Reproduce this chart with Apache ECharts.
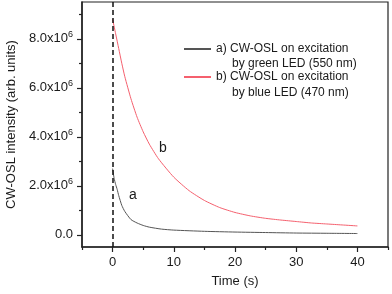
<!DOCTYPE html>
<html><head><meta charset="utf-8">
<script src="https://cdn.jsdelivr.net/npm/echarts@6/dist/echarts.min.js"></script>
<style>html,body{margin:0;padding:0;background:#fff}#c{width:392px;height:294px}</style>
</head><body><div id="c"></div>
<script>
// Data
var timesGreen  = [0, 0.25, 0.5, 0.75, 1, 1.5, 2, 3, 4, 5, 6, 8, 10, 15, 20, 25, 30, 35, 40];
var valuesGreen = [2.7e6, 2.3e6, 2.05e6, 1.85e6, 1.6e6, 1.2e6, 0.95e6, 0.62e6, 0.48e6, 0.38e6, 0.31e6, 0.23e6, 0.19e6, 0.14e6, 0.11e6, 0.09e6, 0.07e6, 0.06e6, 0.05e6];
var timesBlue   = [0, 0.5, 1, 1.5, 2, 3, 4, 5, 6, 7.5, 10, 12.5, 15, 17.5, 20, 22.5, 25, 27.5, 30, 32.5, 35, 37.5, 40];
var valuesBlue  = [8.8e6, 8.2e6, 7.6e6, 7.0e6, 6.45e6, 5.55e6, 4.8e6, 4.2e6, 3.7e6, 3.1e6, 2.35e6, 1.8e6, 1.4e6, 1.11e6, 0.91e6, 0.77e6, 0.67e6, 0.6e6, 0.54e6, 0.48e6, 0.44e6, 0.4e6, 0.36e6];
var xMajorTicks = [0, 10, 20, 30, 40];
var xMinorTicks = [-5, 5, 15, 25, 35, 45];
var yMajorTicks = [0, 2e6, 4e6, 6e6, 8e6];
var yMinorTicks = [1e6, 3e6, 5e6, 7e6, 9e6];
var seriesNames = ['a) CW-OSL on excitation', 'b) CW-OSL on excitation'];
var secondLines = ['by green LED (550 nm)', 'by blue LED (470 nm)'];
var curveLabels = ['a', 'b'];
var xName = 'Time (s)';
var yName = 'CW-OSL intensity (arb. units)';

function pairs(xs, ys){ return xs.map(function(x,i){ return [x, ys[i]]; }); }
function yFmt(v){
  if (v === 0) return '0.0';
  var m = v / 1e6;
  return '{n|' + m.toFixed(1) + 'x10}{s|6}';
}
var FONT = 'Liberation Sans, Arial, sans-serif';
var TXT = '#1a1a1a';
var chart = echarts.init(document.getElementById('c'), null, {renderer:'canvas'});
var xMin = -5, xMax = 45, yMin = -0.5e6, yMax = 9.5e6;
chart.setOption({
  animation: false,
  backgroundColor: '#fff',
  grid: {left: 82, right: 4, top: 2, bottom: 47, show: true, borderColor: '#222', borderWidth: 1.2,
         containLabel: false, outerBoundsMode: 'none'},
  legend: {
    orient: 'vertical', left: 184, top: 43, itemGap: 16, padding: 0,
    itemWidth: 27, itemHeight: 2, icon: 'rect',
    textStyle: {fontFamily: FONT, fontSize: 12, color: TXT},
    data: seriesNames
  },
  xAxis: [{
    type: 'value', min: xMin, max: xMax,
    name: xName, nameLocation: 'middle', nameGap: 28,
    nameTextStyle: {fontFamily: FONT, fontSize: 13, color: TXT},
    axisLine: {show: true, onZero: false, lineStyle: {color: '#222', width: 1.5}},
    axisTick: {show: true, inside: false, length: 5, customValues: xMajorTicks, lineStyle: {color: '#222', width: 1.2}},
    axisLabel: {customValues: xMajorTicks, margin: 9, fontFamily: FONT, fontSize: 13, color: TXT},
    splitLine: {show: false}
  }, {
    type: 'value', min: xMin, max: xMax, position: 'bottom',
    axisLine: {show: false, onZero: false},
    axisTick: {show: true, inside: false, length: 3, customValues: xMinorTicks, lineStyle: {color: '#222', width: 1.2}},
    axisLabel: {show: false}, splitLine: {show: false}
  }],
  yAxis: [{
    type: 'value', min: yMin, max: yMax,
    name: yName, nameLocation: 'middle', nameGap: 56, nameRotate: 90,
    nameTextStyle: {fontFamily: FONT, fontSize: 13, color: TXT},
    axisLine: {show: true, onZero: false, lineStyle: {color: '#222', width: 1.5}},
    axisTick: {show: true, inside: false, length: 5, customValues: yMajorTicks, lineStyle: {color: '#222', width: 1.2}},
    axisLabel: {
      customValues: yMajorTicks, margin: 9, formatter: yFmt,
      fontFamily: FONT, fontSize: 13, color: TXT,
      rich: {
        n: {fontFamily: FONT, fontSize: 13, color: TXT},
        s: {fontFamily: FONT, fontSize: 9, color: TXT, verticalAlign: 'top', padding: [0,0,8,0]}
      }
    },
    splitLine: {show: false}
  }, {
    type: 'value', min: yMin, max: yMax, position: 'left',
    axisLine: {show: false, onZero: false},
    axisTick: {show: true, inside: false, length: 3, customValues: yMinorTicks, lineStyle: {color: '#222', width: 1.2}},
    axisLabel: {show: false}, splitLine: {show: false}
  }],
  series: [{
    name: seriesNames[0], type: 'line', smooth: 0.2, symbol: 'none',
    data: pairs(timesGreen, valuesGreen),
    lineStyle: {color: '#555', width: 1}, itemStyle: {color: '#555'},
    markLine: {
      silent: true, symbol: ['none','none'], label: {show: false},
      lineStyle: {color: '#111', type: [5,3], width: 1.5},
      data: [{xAxis: 0}]
    }
  }, {
    name: seriesNames[1], type: 'line', smooth: 0.2, symbol: 'none',
    data: pairs(timesBlue, valuesBlue),
    lineStyle: {color: '#f5606e', width: 1}, itemStyle: {color: '#f5606e'}
  }],
  graphic: [
    {type: 'text', left: 232, top: 58, style: {text: secondLines[0], font: '12px ' + FONT, fill: TXT}},
    {type: 'text', left: 232, top: 87, style: {text: secondLines[1], font: '12px ' + FONT, fill: TXT}},
    {type: 'text', left: 129, top: 188, style: {text: curveLabels[0], font: '14px ' + FONT, fill: TXT}},
    {type: 'text', left: 159, top: 141, style: {text: curveLabels[1], font: '14px ' + FONT, fill: TXT}}
  ]
});
</script></body></html>
